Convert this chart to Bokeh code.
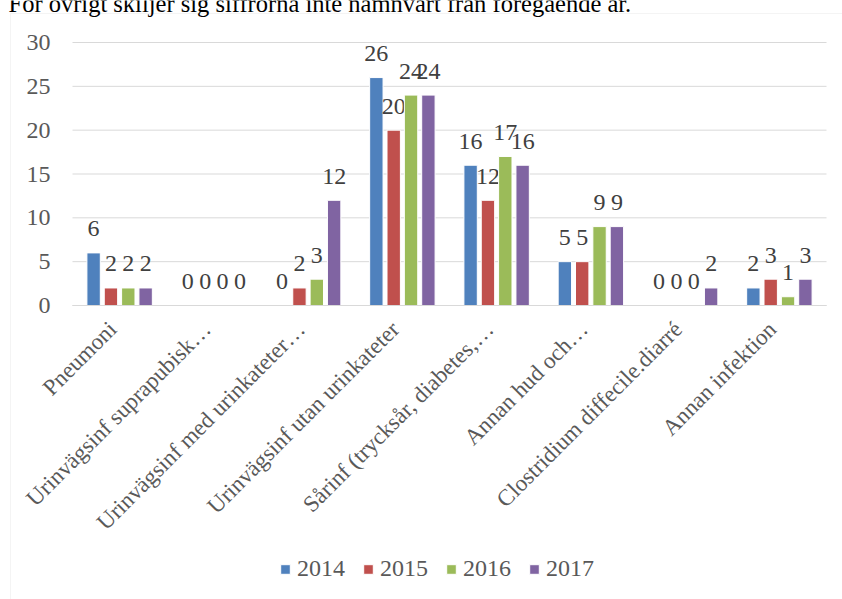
import math
from bokeh.plotting import figure
from bokeh.models import (ColumnDataSource, Range1d, Legend, LegendItem,
                          Label, BoxAnnotation, FixedTicker)
from bokeh.transform import dodge
from bokeh.core.properties import value
from bokeh.embed import file_html
from bokeh.resources import INLINE

categories = ["Pneumoni", "Urinvägsinf suprapubisk…", "Urinvägsinf med urinkateter…",
              "Urinvägsinf utan urinkateter", "Sårinf (trycksår, diabetes,…",
              "Annan hud och…", "Clostridium diffecile.diarré", "Annan infektion"]
years = ["2014", "2015", "2016", "2017"]
v2014 = [6, 0, 0, 26, 16, 5, 0, 2]
v2015 = [2, 0, 2, 20, 12, 5, 0, 3]
v2016 = [2, 0, 3, 24, 17, 9, 0, 1]
v2017 = [2, 0, 12, 24, 16, 9, 2, 3]
y_ticks = [0, 5, 10, 15, 20, 25, 30]
colors = ["#4F81BD", "#C0504D", "#9BBB59", "#8064A2"]
intro_text = "För övrigt skiljer sig siffrorna inte nämnvärt från föregående år."

FONT = "Liberation Serif"
W, H = 842, 599
# pixel layout of the plotting area inside the canvas
PL, PR, PT, PB = 72, 826, 42, 305
n = len(categories)
ymax = y_ticks[-1]
xs_per_px = n / (PR - PL)
ys_per_px = ymax / (PB - PT)
x_range = Range1d(-PL * xs_per_px, n + (W - PR) * xs_per_px)
y_range = Range1d(-(H - PB) * ys_per_px, ymax + PT * ys_per_px)

p = figure(width=W, height=H, x_range=x_range, y_range=y_range,
           output_backend="svg", toolbar_location=None, min_border=0)
p.outline_line_color = None
p.grid.visible = False

xpos = [i + 0.5 for i in range(n)]
label_shift = -7 * xs_per_px  # small horizontal nudge of the rotated category labels
label_pos = [x + label_shift for x in xpos]

# horizontal gridlines
p.segment(x0=[0] * len(y_ticks), x1=[n] * len(y_ticks), y0=y_ticks, y1=y_ticks,
          line_color="#D9D9D9", line_width=1)

p.yaxis.fixed_location = 0
p.yaxis.bounds = (0, ymax)
p.yaxis.ticker = FixedTicker(ticks=y_ticks)
p.yaxis.axis_line_color = None
p.yaxis.major_tick_line_color = None
p.yaxis.minor_tick_line_color = None
p.yaxis.major_label_standoff = 16
p.yaxis.major_label_text_font = FONT
p.yaxis.major_label_text_font_size = "24px"
p.yaxis.major_label_text_color = "#595959"

p.xaxis.fixed_location = 0
p.xaxis.bounds = (0, n)
p.xaxis.ticker = FixedTicker(ticks=label_pos)
p.xaxis.major_label_overrides = {x: c for x, c in zip(label_pos, categories)}
p.xaxis.axis_line_color = "#D9D9D9"
p.xaxis.major_tick_line_color = None
p.xaxis.minor_tick_line_color = None
p.xaxis.major_label_orientation = math.pi / 4
p.xaxis.major_label_standoff = 14
p.xaxis.major_label_text_font = FONT
p.xaxis.major_label_text_font_size = "23px"
p.xaxis.major_label_text_color = "#595959"

series = [v2014, v2015, v2016, v2017]
step = 0.184
offsets = [-1.5 * step, -0.5 * step, 0.5 * step, 1.5 * step]
items = []
for yr, vals, col, off in zip(years, series, colors, offsets):
    src = ColumnDataSource(dict(x=xpos, val=vals, lab=[str(v) for v in vals]))
    r = p.vbar(x=dodge("x", off), top="val", width=0.142, source=src,
               fill_color=col, line_color="white", line_width=1)
    p.text(x=dodge("x", off), y="val", text="lab", source=src,
           text_align="center", text_baseline="alphabetic", y_offset=-24,
           text_font=value(FONT), text_font_size="24px", text_color="#404040")
    items.append(LegendItem(label=yr, renderers=[r]))

legend = Legend(items=items, orientation="horizontal", location=(279, 17),
                glyph_width=12, glyph_height=12, label_standoff=6, spacing=17,
                label_height=24, padding=0, margin=0, border_line_color=None,
                background_fill_alpha=0, label_text_font=FONT,
                label_text_font_size="24px", label_text_color="#595959")
p.add_layout(legend)

box = BoxAnnotation(left=10, right=W + 20, top=H - 13, bottom=-20,
                    left_units="screen", right_units="screen",
                    top_units="screen", bottom_units="screen",
                    fill_alpha=0, line_color="#D9D9D9", line_width=1, level="underlay")
p.add_layout(box)

p.add_layout(Label(x=8, y=H - 3, x_units="screen", y_units="screen", text=intro_text,
                   text_font=FONT, text_font_size="24.5px", text_color="black",
                   text_baseline="alphabetic"))

open("out.html", "w").write(file_html(p, INLINE))
